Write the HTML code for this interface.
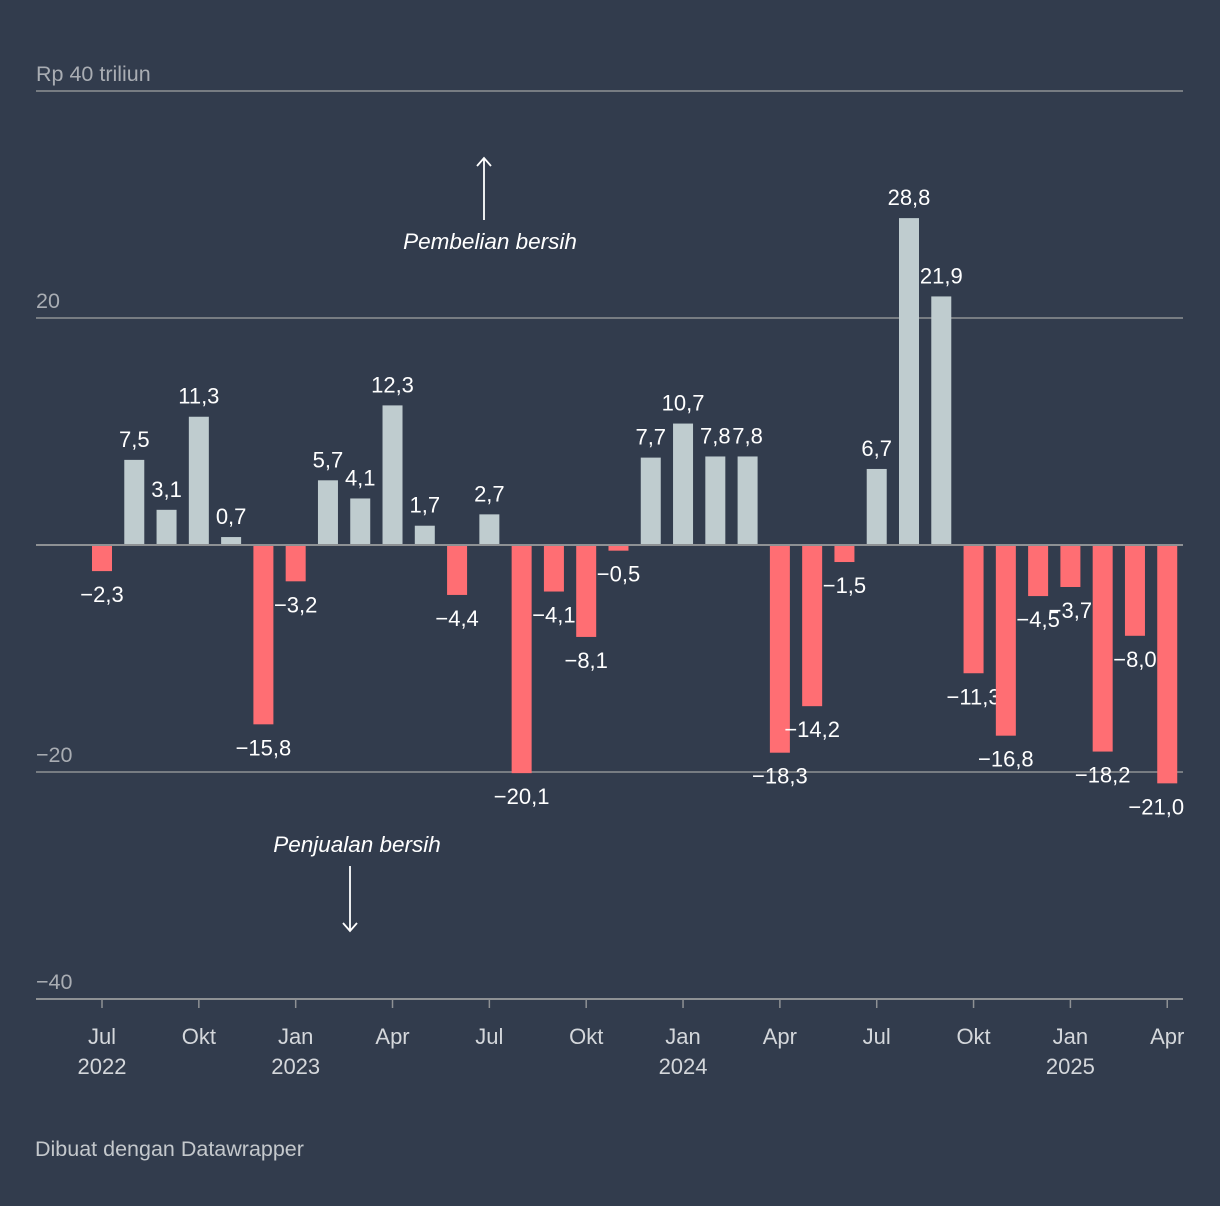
<!DOCTYPE html>
<html><head><meta charset="utf-8"><style>
html,body{margin:0;padding:0;background:#323c4d;}
svg{display:block;font-family:"Liberation Sans",sans-serif;}
</style></head><body>
<svg id="c" width="1220" height="1206"></svg>
<script>
const months=["2022-07","2022-08","2022-09","2022-10","2022-11","2022-12","2023-01","2023-02","2023-03","2023-04","2023-05","2023-06","2023-07","2023-08","2023-09","2023-10","2023-11","2023-12","2024-01","2024-02","2024-03","2024-04","2024-05","2024-06","2024-07","2024-08","2024-09","2024-10","2024-11","2024-12","2025-01","2025-02","2025-03","2025-04"];
const values=[-2.3,7.5,3.1,11.3,0.7,-15.8,-3.2,5.7,4.1,12.3,1.7,-4.4,2.7,-20.1,-4.1,-8.1,-0.5,7.7,10.7,7.8,7.8,-18.3,-14.2,-1.5,6.7,28.8,21.9,-11.3,-16.8,-4.5,-3.7,-18.2,-8.0,-21.0];
const yTicks=[40,20,-20,-40];
const yTickLabels=["Rp 40 triliun","20","\u221220","\u221240"];
const xTickIdx=[0,3,6,9,12,15,18,21,24,27,30,33];
const xTickLabels=["Jul","Okt","Jan","Apr","Jul","Okt","Jan","Apr","Jul","Okt","Jan","Apr"];
const xYearLabels=["2022","","2023","","","","2024","","","","2025",""];

const NS="http://www.w3.org/2000/svg";
const svg=document.getElementById('c');
const y=v=>545-v*11.35;
const x=i=>102+i*32.28;
function mk(t,a,txt){const e=document.createElementNS(NS,t);for(const k in a)e.setAttribute(k,a[k]);if(txt!==undefined)e.textContent=txt;svg.appendChild(e);return e;}
const fmt=v=>(v<0?"\u2212":"")+Math.abs(v).toFixed(1).replace(".",",");

yTicks.forEach((t,i)=>{
  if(t!==-40){const l=mk('line',{x1:36,x2:1183,y1:y(t),y2:y(t),stroke:'#8e9194','stroke-width':1.5});
  
  }
  const tx=mk('text',{x:36,y:y(t)-10,fill:'#a9adb3','font-size':21.5},yTickLabels[i]);
  
  
});
values.forEach((v,i)=>{
  const top=Math.min(y(v),y(0)),h=Math.abs(y(v)-y(0));
  const r=mk('rect',{x:x(i)-10,y:top,width:20,height:h,fill:v>=0?'#bfcccf':'#ff6e73'});
  
  
  const ly=v>=0?y(v)-13:y(v)+31;
  const lx=i===values.length-1?x(i)-11:x(i);
  const t=mk('text',{x:lx,y:ly,fill:'#ffffff','font-size':22,'text-anchor':'middle'},fmt(v));
  
  
});
const z=mk('line',{x1:36,x2:1183,y1:545,y2:545,stroke:'#8e9194','stroke-width':2});


const ax=mk('line',{x1:36,x2:1183,y1:999,y2:999,stroke:'#8e9194','stroke-width':2});


xTickIdx.forEach((idx,i)=>{
  const tk=mk('line',{x1:x(idx),x2:x(idx),y1:999,y2:1008,stroke:'#8e9194','stroke-width':1.5});
  
  
  const t=mk('text',{x:x(idx),y:1044,fill:'#d4d7db','font-size':22,'text-anchor':'middle'},xTickLabels[i]);
  
  
  if(xYearLabels[i]){const yl=mk('text',{x:x(idx),y:1074,fill:'#d4d7db','font-size':22,'text-anchor':'middle'},xYearLabels[i]);
  
  }
});
const a1=mk('text',{x:490,y:249,fill:'#ffffff','font-size':22.5,'font-style':'italic','text-anchor':'middle'},'Pembelian bersih');


const p1=mk('path',{d:'M484 220 V158 M477 166 L484 158 L491 166',stroke:'#fff','stroke-width':1.8,fill:'none'});


const a2=mk('text',{x:357,y:852,fill:'#ffffff','font-size':22.5,'font-style':'italic','text-anchor':'middle'},'Penjualan bersih');


const p2=mk('path',{d:'M350 866 V931 M343 923 L350 931 L357 923',stroke:'#fff','stroke-width':1.8,fill:'none'});


const f=mk('text',{x:35,y:1156,fill:'#c4c8cc','font-size':21.5},'Dibuat dengan Datawrapper');


</script>
</body></html>
